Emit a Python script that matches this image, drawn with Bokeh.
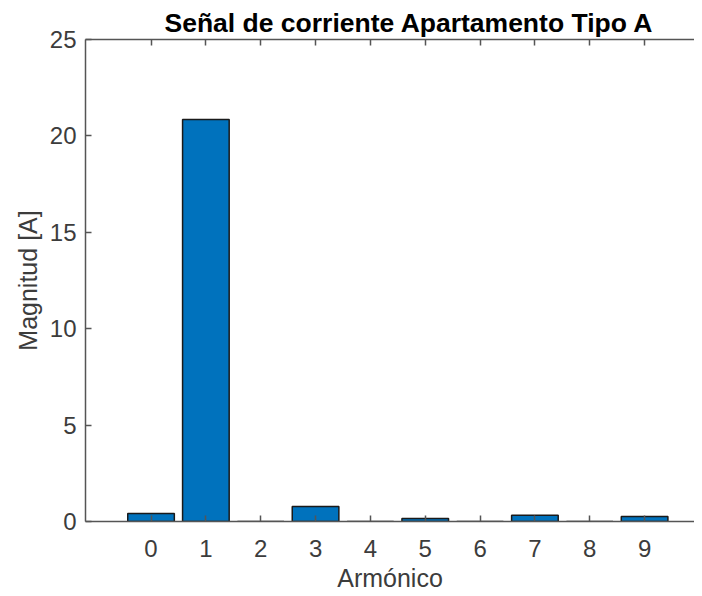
from bokeh.plotting import figure
from bokeh.models import LinearAxis, FixedTicker, Range1d, ColumnDataSource, Title
from bokeh.embed import file_html
from bokeh.resources import INLINE

harmonics = [0, 1, 2, 3, 4, 5, 6, 7, 8, 9]
magnitudes = [0.42, 20.85, 0.0, 0.78, 0.0, 0.15, 0.0, 0.32, 0.0, 0.26]
y_ticks = [0, 5, 10, 15, 20, 25]

title_text = "Señal de corriente Apartamento Tipo A"
x_label = "Armónico"
y_label = "Magnitud [A]"

FONT = "Liberation Sans"
TXT = "#3c3c3c"
AX = "#555555"

p = figure(width=694, height=594, output_backend="svg", toolbar_location=None,
           x_range=Range1d(-1.195, 9.91), y_range=Range1d(0, 25),
           min_border_left=85, min_border_right=0, min_border_top=39, min_border_bottom=73,
           title=None)
p.outline_line_color = None
p.grid.visible = False
p.background_fill_color = "white"
p.border_fill_color = "white"

src = ColumnDataSource(dict(x=harmonics, top=magnitudes))
p.vbar(x="x", top="top", bottom=0, width=0.85, source=src,
       fill_color="#0072BD", line_color="#1a1a1a", line_width=1.5)

for ax in (p.xaxis[0], p.yaxis[0]):
    ax.axis_line_color = AX
    ax.axis_line_width = 1.5
    ax.major_tick_line_color = AX
    ax.major_tick_line_width = 1.5
    ax.major_tick_in = 6
    ax.major_tick_out = 0
    ax.minor_tick_line_color = None
    ax.major_label_text_font = FONT
    ax.major_label_text_font_size = "24px"
    ax.major_label_text_color = TXT
    ax.axis_label_text_font = FONT
    ax.axis_label_text_font_size = "25px"
    ax.axis_label_text_font_style = "normal"
    ax.axis_label_text_color = TXT

p.xaxis[0].ticker = FixedTicker(ticks=harmonics)
p.yaxis[0].ticker = FixedTicker(ticks=y_ticks)
p.xaxis[0].axis_label = x_label
p.yaxis[0].axis_label = y_label
p.xaxis[0].major_label_standoff = 18
p.xaxis[0].axis_label_standoff = 4
p.yaxis[0].major_label_standoff = 9
p.yaxis[0].axis_label_standoff = 5

top_ax = LinearAxis(ticker=FixedTicker(ticks=harmonics), major_label_text_font_size="0px",
                    axis_line_color=AX, axis_line_width=1.5, major_tick_line_color=AX,
                    major_tick_line_width=1.5, major_tick_in=6, major_tick_out=0,
                    minor_tick_line_color=None, major_label_standoff=0)
top_ax.major_label_overrides = {t: "" for t in harmonics}
p.add_layout(top_ax, "above")

t = Title(text=title_text, align="left", text_font=FONT, text_font_size="26.5px",
          text_font_style="bold", text_color="#000000", offset=79, standoff=4)
p.add_layout(t, "above")

open("out.html", "w").write(file_html(p, INLINE))
